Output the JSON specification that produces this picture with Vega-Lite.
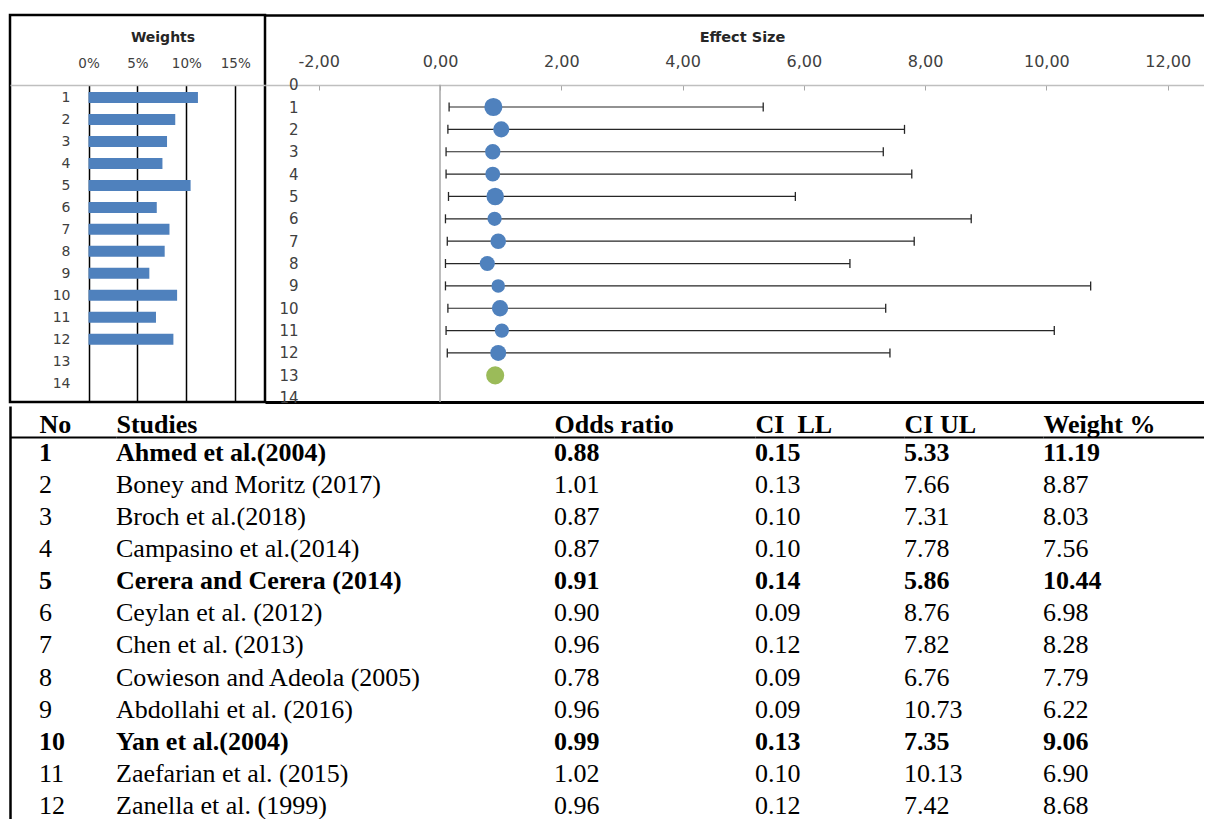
{
  "$schema": "https://vega.github.io/schema/vega-lite/v6.json",
  "padding": {"left": 8, "top": 13, "right": 0, "bottom": 0},
  "background": "white",
  "datasets": {
    "studies": [
      {"No": 1, "Study": "Ahmed et al.(2004)", "OR": 0.88, "LL": 0.15, "UL": 5.33, "W": 11.19, "highlighted": true},
      {"No": 2, "Study": "Boney and Moritz (2017)", "OR": 1.01, "LL": 0.13, "UL": 7.66, "W": 8.87, "highlighted": false},
      {"No": 3, "Study": "Broch et al.(2018)", "OR": 0.87, "LL": 0.10, "UL": 7.31, "W": 8.03, "highlighted": false},
      {"No": 4, "Study": "Campasino et al.(2014)", "OR": 0.87, "LL": 0.10, "UL": 7.78, "W": 7.56, "highlighted": false},
      {"No": 5, "Study": "Cerera and Cerera (2014)", "OR": 0.91, "LL": 0.14, "UL": 5.86, "W": 10.44, "highlighted": true},
      {"No": 6, "Study": "Ceylan et al. (2012)", "OR": 0.90, "LL": 0.09, "UL": 8.76, "W": 6.98, "highlighted": false},
      {"No": 7, "Study": "Chen et al. (2013)", "OR": 0.96, "LL": 0.12, "UL": 7.82, "W": 8.28, "highlighted": false},
      {"No": 8, "Study": "Cowieson and Adeola (2005)", "OR": 0.78, "LL": 0.09, "UL": 6.76, "W": 7.79, "highlighted": false},
      {"No": 9, "Study": "Abdollahi et al. (2016)", "OR": 0.96, "LL": 0.09, "UL": 10.73, "W": 6.22, "highlighted": false},
      {"No": 10, "Study": "Yan et al.(2004)", "OR": 0.99, "LL": 0.13, "UL": 7.35, "W": 9.06, "highlighted": true},
      {"No": 11, "Study": "Zaefarian et al. (2015)", "OR": 1.02, "LL": 0.10, "UL": 10.13, "W": 6.90, "highlighted": false},
      {"No": 12, "Study": "Zanella et al. (1999)", "OR": 0.96, "LL": 0.12, "UL": 7.42, "W": 8.68, "highlighted": false}
    ],
    "pooled": [{"No": 13, "OR": 0.91}]
  },
  "data": {"name": "studies"},
  "spacing": 0,
  "config": {
    "font": "DejaVu Sans",
    "view": {"stroke": null},
    "concat": {"spacing": 0},
    "axis": {"grid": false}
  },
  "vconcat": [
    {
      "spacing": 0,
      "bounds": "flush",
      "hconcat": [
        {
          "width": 255,
          "height": 387,
          "view": {"stroke": "black", "strokeWidth": 2.5},
          "mark": {"type": "bar", "orient": "horizontal", "size": 11, "color": "#4F81BD"},
          "encoding": {
            "x": {
              "field": "W", "type": "quantitative",
              "scale": {"domain": [-8.027, 18.047], "nice": false, "zero": false},
              "axis": {
                "orient": "top", "offset": -70, "values": [0, 5, 10, 15],
                "labelExpr": "datum.value + '%'",
                "domainColor": "#BFBFBF", "domainWidth": 1.5,
                "tickColor": "black", "tickWidth": 1.5, "tickSize": -317,
                "labelPadding": 331.6, "labelFontSize": 13.5, "labelColor": "#404040",
                "labelFlush": false, "labelOverlap": false, "grid": false,
                "title": "Weights", "titleX": 152.5, "titleY": -44, "titleAlign": "center",
                "titleBaseline": "alphabetic", "titleFontSize": 14, "titleFontWeight": "bold", "titleColor": "#262626"
              }
            },
            "x2": {"datum": 0},
            "y": {
              "field": "No", "type": "quantitative",
              "scale": {"domain": [-2.53, 14.632], "reverse": true, "nice": false, "zero": false},
              "axis": {
                "orient": "left", "values": [1, 2, 3, 4, 5, 6, 7, 8, 9, 10, 11, 12, 13, 14],
                "domain": false, "ticks": false, "grid": false, "title": null,
                "labelPadding": -60, "labelFontSize": 14, "labelColor": "#404040",
                "labelOverlap": false, "labelFlush": false
              }
            }
          }
        },
        {
          "width": 939,
          "height": 387,
          "layer": [
            {
              "mark": {"type": "rule", "color": "#262626", "strokeWidth": 1.2},
              "encoding": {
                "x": {
                  "field": "LL", "type": "quantitative",
                  "scale": {"domain": [-2.886, 12.599], "nice": false, "zero": false},
                  "axis": {
                    "orient": "top", "offset": -70, "values": [-2, 0, 2, 4, 6, 8, 10, 12],
                    "labelExpr": "replace(replace(format(datum.value, '.2f'), '.', ','), '\u2212', '-')",
                    "domainColor": "#BFBFBF", "domainWidth": 1.5,
                    "tickColor": "#A6A6A6", "tickWidth": 1, "tickSize": -5,
                    "labelPadding": 20.6, "labelFontSize": 16, "labelColor": "#404040",
                    "labelFlush": false, "labelOverlap": false, "grid": false,
                    "title": "Effect Size", "titleX": 477, "titleY": -44, "titleAlign": "center",
                    "titleBaseline": "alphabetic", "titleFontSize": 14.5, "titleFontWeight": "bold", "titleColor": "#262626"
                  }
                },
                "x2": {"field": "UL"},
                "y": {
                  "field": "No", "type": "quantitative",
                  "scale": {"domain": [-3.115, 14.193], "reverse": true, "nice": false, "zero": false},
                  "axis": {
                    "orient": "left", "values": [0, 1, 2, 3, 4, 5, 6, 7, 8, 9, 10, 11, 12, 13, 14],
                    "domain": false, "ticks": false, "grid": false, "title": null,
                    "labelPadding": -33, "labelFontSize": 15, "labelColor": "#404040",
                    "labelOverlap": false, "labelFlush": false
                  }
                }
              }
            },
            {
              "data": {"values": [{}]},
              "mark": {"type": "rule", "color": "#A6A6A6", "strokeWidth": 1.5},
              "encoding": {
                "x": {"datum": 0, "type": "quantitative", "scale": {"domain": [-2.886, 12.599], "nice": false, "zero": false}, "axis": null},
                "y": {"datum": 0, "type": "quantitative", "scale": {"domain": [-3.115, 14.193], "reverse": true, "nice": false, "zero": false}, "axis": null},
                "y2": {"datum": 14.193}
              }
            },
            {
              "mark": {"type": "tick", "orient": "vertical", "size": 9, "thickness": 1.3, "color": "#262626", "opacity": 1},
              "encoding": {
                "x": {
                  "field": "LL", "type": "quantitative",
                  "scale": {"domain": [-2.886, 12.599], "nice": false, "zero": false},
                  "axis": {"orient": "top", "offset": 0, "domainColor": "black", "domainWidth": 2.5, "ticks": false, "labels": false, "grid": false, "title": null}
                },
                "y": {"field": "No", "type": "quantitative", "scale": {"domain": [-3.115, 14.193], "reverse": true, "nice": false, "zero": false}, "axis": null}
              }
            },
            {
              "mark": {"type": "tick", "orient": "vertical", "size": 9, "thickness": 1.3, "color": "#262626", "opacity": 1},
              "encoding": {
                "x": {
                  "field": "UL", "type": "quantitative",
                  "scale": {"domain": [-2.886, 12.599], "nice": false, "zero": false},
                  "axis": {"orient": "bottom", "offset": 0, "domainColor": "black", "domainWidth": 3, "ticks": false, "labels": false, "grid": false, "title": null}
                },
                "y": {"field": "No", "type": "quantitative", "scale": {"domain": [-3.115, 14.193], "reverse": true, "nice": false, "zero": false}, "axis": null}
              }
            },
            {
              "mark": {"type": "circle", "color": "#4F81BD", "opacity": 1},
              "encoding": {
                "x": {"field": "OR", "type": "quantitative", "scale": {"domain": [-2.886, 12.599], "nice": false, "zero": false}, "axis": null},
                "y": {"field": "No", "type": "quantitative", "scale": {"domain": [-3.115, 14.193], "reverse": true, "nice": false, "zero": false}, "axis": null},
                "size": {"field": "W", "type": "quantitative", "scale": {"domain": [0, 11.19], "range": [0, 328]}, "legend": null}
              }
            },
            {
              "data": {"name": "pooled"},
              "mark": {"type": "circle", "color": "#9BBB59", "opacity": 1, "size": 328},
              "encoding": {
                "x": {"field": "OR", "type": "quantitative", "scale": {"domain": [-2.886, 12.599], "nice": false, "zero": false}, "axis": null},
                "y": {"field": "No", "type": "quantitative", "scale": {"domain": [-3.115, 14.193], "reverse": true, "nice": false, "zero": false}, "axis": null}
              }
            }
          ],
          "resolve": {"axis": {"x": "independent", "y": "independent"}}
        }
      ]
    },
    {
      "spacing": 0,
      "bounds": "flush",
      "hconcat": [
        {
          "width": 106, "height": 414,
          "encoding": {
            "x": {"datum": 0, "type": "quantitative", "scale": {"domain": [0, 1]},
              "axis": {"orient": "top", "offset": -31, "domainColor": "black", "domainWidth": 2, "ticks": false, "labels": false, "grid": false,
                "title": "No", "titleX": 29, "titleY": -5, "titleAlign": "left", "titleBaseline": "alphabetic", "titleAnchor": "start",
                "titleFont": "Liberation Serif", "titleFontSize": 26, "titleFontWeight": "bold", "titleColor": "black"}},
            "y": {"field": "No", "type": "quantitative", "scale": {"domain": [-0.479, 12.45], "reverse": true, "nice": false, "zero": false},
              "axis": {"orient": "left", "domainColor": "black", "domainWidth": 2.5, "ticks": false, "labels": false, "grid": false, "title": null}},
            "text": {"field": "No", "type": "quantitative", "format": "d"}
          },
          "layer": [
            {"transform": [{"filter": "!datum.highlighted"}], "mark": {"type": "text", "align": "left", "baseline": "middle", "dx": 29, "clip": true, "font": "Liberation Serif", "fontSize": 26, "color": "black"}},
            {"transform": [{"filter": "datum.highlighted"}], "mark": {"type": "text", "align": "left", "baseline": "middle", "dx": 29, "clip": true, "font": "Liberation Serif", "fontSize": 26, "fontWeight": "bold", "color": "black"}}
          ]
        },
        {
          "width": 438, "height": 414,
          "encoding": {
            "x": {"datum": 0, "type": "quantitative", "scale": {"domain": [0, 1]},
              "axis": {"orient": "top", "offset": -31, "domainColor": "black", "domainWidth": 2, "ticks": false, "labels": false, "grid": false,
                "title": "Studies", "titleX": 0, "titleY": -5, "titleAlign": "left", "titleBaseline": "alphabetic", "titleAnchor": "start",
                "titleFont": "Liberation Serif", "titleFontSize": 26, "titleFontWeight": "bold", "titleColor": "black"}},
            "y": {"field": "No", "type": "quantitative", "scale": {"domain": [-0.479, 12.45], "reverse": true, "nice": false, "zero": false}, "axis": null},
            "text": {"field": "Study", "type": "nominal"}
          },
          "layer": [
            {"transform": [{"filter": "!datum.highlighted"}], "mark": {"type": "text", "align": "left", "baseline": "middle", "clip": true, "font": "Liberation Serif", "fontSize": 26, "color": "black"}},
            {"transform": [{"filter": "datum.highlighted"}], "mark": {"type": "text", "align": "left", "baseline": "middle", "clip": true, "font": "Liberation Serif", "fontSize": 26, "fontWeight": "bold", "color": "black"}}
          ]
        },
        {
          "width": 201, "height": 414,
          "encoding": {
            "x": {"datum": 0, "type": "quantitative", "scale": {"domain": [0, 1]},
              "axis": {"orient": "top", "offset": -31, "domainColor": "black", "domainWidth": 2, "ticks": false, "labels": false, "grid": false,
                "title": "Odds ratio", "titleX": 0, "titleY": -5, "titleAlign": "left", "titleBaseline": "alphabetic", "titleAnchor": "start",
                "titleFont": "Liberation Serif", "titleFontSize": 26, "titleFontWeight": "bold", "titleColor": "black"}},
            "y": {"field": "No", "type": "quantitative", "scale": {"domain": [-0.479, 12.45], "reverse": true, "nice": false, "zero": false}, "axis": null},
            "text": {"field": "OR", "type": "quantitative", "format": ".2f"}
          },
          "layer": [
            {"transform": [{"filter": "!datum.highlighted"}], "mark": {"type": "text", "align": "left", "baseline": "middle", "clip": true, "font": "Liberation Serif", "fontSize": 26, "color": "black"}},
            {"transform": [{"filter": "datum.highlighted"}], "mark": {"type": "text", "align": "left", "baseline": "middle", "clip": true, "font": "Liberation Serif", "fontSize": 26, "fontWeight": "bold", "color": "black"}}
          ]
        },
        {
          "width": 149, "height": 414,
          "encoding": {
            "x": {"datum": 0, "type": "quantitative", "scale": {"domain": [0, 1]},
              "axis": {"orient": "top", "offset": -31, "domainColor": "black", "domainWidth": 2, "ticks": false, "labels": false, "grid": false,
                "title": "CI\u00a0 LL", "titleX": 0, "titleY": -5, "titleAlign": "left", "titleBaseline": "alphabetic", "titleAnchor": "start",
                "titleFont": "Liberation Serif", "titleFontSize": 26, "titleFontWeight": "bold", "titleColor": "black"}},
            "y": {"field": "No", "type": "quantitative", "scale": {"domain": [-0.479, 12.45], "reverse": true, "nice": false, "zero": false}, "axis": null},
            "text": {"field": "LL", "type": "quantitative", "format": ".2f"}
          },
          "layer": [
            {"transform": [{"filter": "!datum.highlighted"}], "mark": {"type": "text", "align": "left", "baseline": "middle", "clip": true, "font": "Liberation Serif", "fontSize": 26, "color": "black"}},
            {"transform": [{"filter": "datum.highlighted"}], "mark": {"type": "text", "align": "left", "baseline": "middle", "clip": true, "font": "Liberation Serif", "fontSize": 26, "fontWeight": "bold", "color": "black"}}
          ]
        },
        {
          "width": 139, "height": 414,
          "encoding": {
            "x": {"datum": 0, "type": "quantitative", "scale": {"domain": [0, 1]},
              "axis": {"orient": "top", "offset": -31, "domainColor": "black", "domainWidth": 2, "ticks": false, "labels": false, "grid": false,
                "title": "CI UL", "titleX": 0, "titleY": -5, "titleAlign": "left", "titleBaseline": "alphabetic", "titleAnchor": "start",
                "titleFont": "Liberation Serif", "titleFontSize": 26, "titleFontWeight": "bold", "titleColor": "black"}},
            "y": {"field": "No", "type": "quantitative", "scale": {"domain": [-0.479, 12.45], "reverse": true, "nice": false, "zero": false}, "axis": null},
            "text": {"field": "UL", "type": "quantitative", "format": ".2f"}
          },
          "layer": [
            {"transform": [{"filter": "!datum.highlighted"}], "mark": {"type": "text", "align": "left", "baseline": "middle", "clip": true, "font": "Liberation Serif", "fontSize": 26, "color": "black"}},
            {"transform": [{"filter": "datum.highlighted"}], "mark": {"type": "text", "align": "left", "baseline": "middle", "clip": true, "font": "Liberation Serif", "fontSize": 26, "fontWeight": "bold", "color": "black"}}
          ]
        },
        {
          "width": 161, "height": 414,
          "encoding": {
            "x": {"datum": 0, "type": "quantitative", "scale": {"domain": [0, 1]},
              "axis": {"orient": "top", "offset": -31, "domainColor": "black", "domainWidth": 2, "ticks": false, "labels": false, "grid": false,
                "title": "Weight %", "titleX": 0, "titleY": -5, "titleAlign": "left", "titleBaseline": "alphabetic", "titleAnchor": "start",
                "titleFont": "Liberation Serif", "titleFontSize": 26, "titleFontWeight": "bold", "titleColor": "black"}},
            "y": {"field": "No", "type": "quantitative", "scale": {"domain": [-0.479, 12.45], "reverse": true, "nice": false, "zero": false}, "axis": null},
            "text": {"field": "W", "type": "quantitative", "format": ".2f"}
          },
          "layer": [
            {"transform": [{"filter": "!datum.highlighted"}], "mark": {"type": "text", "align": "left", "baseline": "middle", "clip": true, "font": "Liberation Serif", "fontSize": 26, "color": "black"}},
            {"transform": [{"filter": "datum.highlighted"}], "mark": {"type": "text", "align": "left", "baseline": "middle", "clip": true, "font": "Liberation Serif", "fontSize": 26, "fontWeight": "bold", "color": "black"}}
          ]
        }
      ]
    }
  ]
}
